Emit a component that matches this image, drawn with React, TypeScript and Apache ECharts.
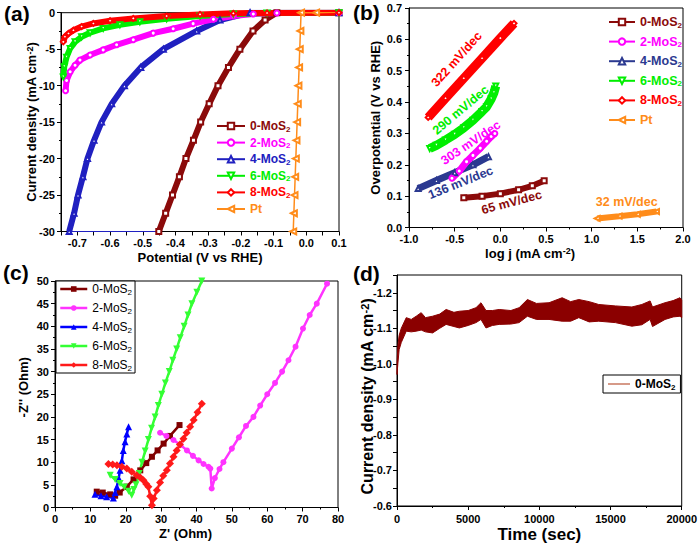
import React, { useEffect, useRef } from 'react';
import * as echarts from 'echarts';

const FONT = '"Liberation Sans", Arial, sans-serif';

// ---------- Panel (a): LSV curves  [potential V vs RHE, current density mA cm-2]
const a0 = [[-0.451, -30], [-0.43, -27.5], [-0.409, -25], [-0.388, -22.5], [-0.368, -20], [-0.345, -17.5], [-0.323, -15], [-0.297, -12.5], [-0.27, -10], [-0.238, -7.5], [-0.203, -5], [-0.163, -2.5], [-0.126, -1], [-0.09, 0], [0.1, 0]];
const a2 = [[-0.736, -10.7], [-0.733, -9.3], [-0.722, -8.1], [-0.707, -7.2], [-0.692, -6.5], [-0.661, -5.8], [-0.621, -5.1], [-0.58, -4.4], [-0.529, -3.7], [-0.468, -2.8], [-0.407, -2.2], [-0.346, -1.5], [-0.284, -0.9], [-0.223, -0.46], [-0.162, -0.18], [-0.09, -0.05], [0.1, 0]];
const a4 = [[-0.725, -30], [-0.71, -27.5], [-0.698, -25], [-0.683, -22.5], [-0.669, -20], [-0.649, -17.5], [-0.626, -15], [-0.595, -12.5], [-0.556, -10], [-0.506, -7.5], [-0.437, -5], [-0.335, -2.5], [-0.264, -1], [-0.172, 0], [0.1, 0]];
const a6 = [[-0.743, -8.8], [-0.74, -7.4], [-0.733, -6.1], [-0.722, -4.9], [-0.707, -4.0], [-0.687, -3.3], [-0.661, -2.75], [-0.621, -2.15], [-0.57, -1.65], [-0.509, -1.24], [-0.427, -0.83], [-0.325, -0.46], [-0.223, -0.18], [-0.12, -0.05], [0.1, 0]];
const a8 = [[-0.743, -4.0], [-0.738, -3.3], [-0.727, -2.85], [-0.712, -2.4], [-0.687, -1.9], [-0.651, -1.47], [-0.6, -1.1], [-0.529, -0.78], [-0.427, -0.46], [-0.325, -0.23], [-0.223, -0.09], [-0.12, -0.03], [0.1, 0]];
const aPt = [[-0.04, -30], [-0.038, -27.5], [-0.036, -25], [-0.034, -22.5], [-0.032, -20], [-0.03, -17.5], [-0.028, -15], [-0.026, -12.5], [-0.024, -10], [-0.022, -7.5], [-0.02, -5], [-0.018, -2.5], [-0.016, 0], [0.03, 0], [0.09, 0.05]];
const aBottom = [[-0.725, -30], [-0.46, -30]];

// ---------- Panel (b): Tafel plots  [log j, overpotential V]
const b0 = [[-0.4, 0.095], [-0.2, 0.1], [0, 0.108], [0.2, 0.12], [0.35, 0.133], [0.48, 0.149]];
const b2 = [[-0.53, 0.157], [-0.45, 0.18], [-0.37, 0.21], [-0.3, 0.23], [-0.22, 0.253], [-0.15, 0.275], [-0.1, 0.29], [-0.06, 0.3]];
const b4 = [[-0.9, 0.124], [-0.7, 0.15], [-0.5, 0.175], [-0.3, 0.2], [-0.13, 0.226]];
const b6 = [[-0.773, 0.252], [-0.7, 0.262], [-0.6, 0.279], [-0.5, 0.297], [-0.4, 0.318], [-0.3, 0.342], [-0.2, 0.37], [-0.15, 0.385], [-0.1, 0.41], [-0.07, 0.43], [-0.05, 0.451]];
const b8 = [[-0.79, 0.351], [-0.6, 0.412], [-0.4, 0.476], [-0.2, 0.54], [0, 0.604], [0.15, 0.651]];
const bPt = [[1.06, 0.029], [1.3, 0.036], [1.5, 0.042], [1.71, 0.051]];
const bSlopes = ['322 mV/dec', '290 mV/dec', '303 mV/dec', '136 mV/dec', '65 mV/dec', '32 mV/dec'];

// ---------- Panel (c): Nyquist plots  [Z' Ohm, -Z'' Ohm]
const c0 = [[11.8, 3.5], [13.5, 3.3], [15.6, 2.9], [17.0, 2.6], [18.3, 3.3], [20.3, 4.6], [22.2, 6.2], [24.1, 8.2], [25.8, 9.8], [27.4, 11.2], [29, 12.6], [30.7, 14.1], [32.5, 15.8], [35.2, 18.2]];
const c2 = [[29.7, 16.5], [31.5, 15.8], [33.5, 14.9], [35.5, 13.8], [37.3, 12.6], [39, 11.4], [40.6, 10.4], [42, 9.6], [43.4, 9.0], [43.9, 8.6], [44.3, 4.2], [45.2, 6.5], [46.5, 8.5], [47.6, 10], [50, 13], [52, 15.5], [54, 18], [56.1, 20], [58, 22.5], [60, 25], [62.2, 27.5], [64.2, 30], [66, 32.5], [68, 35.5], [70.1, 39.5], [72, 42.5], [74, 45], [76.9, 49.4]];
const c4 = [[11.3, 2.9], [13, 2.6], [14.6, 2.4], [16.5, 2.1], [17.0, 3.3], [17.5, 4.6], [18, 6.5], [18.4, 8.2], [18.9, 10.3], [19.3, 12.6], [19.8, 14.5], [20.3, 16.2], [20.8, 17.8]];
const c6 = [[15.6, 7.1], [17, 6.2], [18.4, 5.3], [19.6, 4.5], [20.8, 3.6], [21.7, 2.7], [22.3, 4], [22.9, 5], [23.8, 7.5], [24.6, 10], [25.5, 12.5], [26.4, 15], [27.3, 17.5], [28.3, 20], [29.2, 22.5], [30.2, 25], [31.2, 27.5], [32.3, 30], [33.3, 32.5], [34.4, 35], [35.4, 37.5], [36.5, 40], [37.6, 42.5], [38.7, 45], [40.1, 47.5], [41.5, 50]];
const c8 = [[15.1, 9.6], [16.3, 9.5], [17.5, 9.3], [18.9, 9.0], [20.3, 8.6], [21.7, 7.9], [23.1, 7.1], [24.1, 6.6], [25, 6], [25.8, 5.2], [26.4, 4.6], [26.9, 2.5], [27.4, 0.5], [27.9, 2], [28.8, 3.8], [29.7, 5.5], [30.6, 7], [31.6, 8.2], [32.5, 9.7], [33.5, 11.2], [34.4, 12.6], [35.3, 13.9], [36.3, 15.2], [37.2, 16.5], [38.2, 17.8], [39.2, 19.3], [40.3, 21], [41.5, 22.9]];

// ---------- Panel (d): chronoamperometry  [time s, current density band edges]
const dTime = [0, 60, 150, 300, 650, 1000, 1350, 1700, 2000, 2500, 3000, 3450, 4000, 4380, 5000, 5550, 5900, 6250, 6700, 7180, 8000, 8580, 9160, 9800, 10680, 11600, 12200, 12770, 13500, 14170, 15340, 16500, 17200, 17780, 17950, 18830, 19400, 19880, 20000];
const dTop = [-1.0, -1.05, -1.08, -1.1, -1.13, -1.125, -1.134, -1.144, -1.13, -1.134, -1.14, -1.153, -1.145, -1.148, -1.15, -1.158, -1.172, -1.15, -1.15, -1.153, -1.15, -1.158, -1.181, -1.17, -1.172, -1.186, -1.175, -1.181, -1.175, -1.167, -1.163, -1.16, -1.167, -1.177, -1.16, -1.172, -1.178, -1.186, -1.18];
const dBottom = [-0.97, -1.0, -1.04, -1.06, -1.092, -1.09, -1.092, -1.095, -1.09, -1.087, -1.1, -1.111, -1.105, -1.101, -1.108, -1.116, -1.125, -1.101, -1.108, -1.111, -1.112, -1.116, -1.134, -1.125, -1.125, -1.12, -1.12, -1.13, -1.118, -1.12, -1.116, -1.106, -1.11, -1.125, -1.105, -1.125, -1.132, -1.134, -1.13];

const LABELS: Record<string, string> = {
  a0: '0-MoS{s|2}', a2: '2-MoS{s|2}', a4: '4-MoS{s|2}', a6: '6-MoS{s|2}', a8: '8-MoS{s|2}', aPt: 'Pt',
  b0: '0-MoS{s|2}', b2: '2-MoS{s|2}', b4: '4-MoS{s|2}', b6: '6-MoS{s|2}', b8: '8-MoS{s|2}', bPt: 'Pt',
  c0: '0-MoS{s|2}', c2: '2-MoS{s|2}', c4: '4-MoS{s|2}', c6: '6-MoS{s|2}', c8: '8-MoS{s|2}',
  d0: '0-MoS{s|2}',
};

const C = {
  m0: '#8b0a0a', m2: '#ff00ff', m4: '#2020c0', m6: '#00ee00', m8: '#ff0000', pt: '#ff8c1a',
  b4: '#2b3990', c4: '#0000ff', c2: '#ff33ff', c6: '#33ff33', c8: '#ff1a1a',
};

const fmt1 = (v: number) => (Math.abs(v) < 1e-9 ? '0.0' : v.toFixed(1));

function axis(grid: number, min: number, max: number, interval: number, extra: any = {}) {
  const { axisLabel = {}, minor = true, ...rest } = extra;
  return {
    type: 'value',
    gridIndex: grid,
    min,
    max,
    interval,
    nameMoveOverlap: false,
    axisLine: { show: true, onZero: false, lineStyle: { color: '#000', width: 1 } },
    axisTick: { show: true, inside: false, length: 4, lineStyle: { color: '#000', width: 1 } },
    minorTick: { show: minor, splitNumber: 2, length: 2, lineStyle: { color: '#000', width: 1 } },
    splitLine: { show: false },
    axisLabel: { color: '#000', fontSize: 11, fontWeight: 'bold', fontFamily: FONT, margin: 6, showMinLabel: true, showMaxLabel: true, ...axisLabel },
    nameLocation: 'middle',
    ...rest,
  };
}

function nameStyle(size: number, extra: any = {}) {
  return {
    color: '#000',
    fontSize: size,
    fontWeight: 'bold',
    fontFamily: FONT,
    rich: { sup: { fontSize: Math.round(size * 0.7), fontWeight: 'bold', fontFamily: FONT, verticalAlign: 'top', lineHeight: Math.round(size * 0.7) } },
    ...extra,
  };
}

function legendText(size: number, bold: boolean) {
  return {
    fontSize: size,
    fontWeight: bold ? 'bold' : 'normal',
    fontFamily: FONT,
    lineHeight: 14,
    rich: { s: { fontSize: 8, fontWeight: bold ? 'bold' : 'normal', fontFamily: FONT, verticalAlign: 'bottom', lineHeight: 8 } },
  };
}

function lineSeries(name: string, xi: number, data: number[][], color: string, width: number, symbol: string, size: number, extra: any = {}) {
  return {
    name,
    type: 'line',
    xAxisIndex: xi,
    yAxisIndex: xi,
    data,
    symbol,
    symbolSize: size,
    showSymbol: symbol !== 'none',
    lineStyle: { color, width },
    itemStyle: { color },
    ...extra,
  };
}

export default function App() {
  const ref = useRef<HTMLDivElement>(null);
  useEffect(() => {
    if (!ref.current) return;
    const chart = echarts.init(ref.current, undefined, { renderer: 'svg' });

    const option: any = {
      animation: false,
      backgroundColor: '#fff',
      grid: [
        { left: 61, top: 12.7, width: 278, height: 218.8, show: true, borderColor: '#000', borderWidth: 1, backgroundColor: 'transparent' },
        { left: 409, top: 8, width: 274, height: 219.5, show: true, borderColor: '#000', borderWidth: 1, backgroundColor: 'transparent' },
        { left: 55, top: 281, width: 283, height: 226.5, show: true, borderColor: '#000', borderWidth: 1, backgroundColor: 'transparent' },
        { left: 397, top: 275, width: 286, height: 231, show: true, borderColor: '#000', borderWidth: 1, backgroundColor: 'transparent' },
      ],
      xAxis: [
        axis(0, -0.75, 0.1, 0.05, {
          minor: false,
          axisLabel: { formatter: (v: number) => (Math.round(v * 100) % 10 === 0 ? fmt1(v) : '') },
          name: 'Potential (V vs RHE)', nameGap: 19, nameTextStyle: nameStyle(13),
        }),
        axis(1, -1, 2, 0.5, {
          axisLabel: { formatter: fmt1 },
          name: 'log j (mA cm{sup|-2})', nameGap: 19, nameTextStyle: nameStyle(13, { padding: [0, 32, 0, 0] }),
        }),
        axis(2, 0, 80, 10, {
          axisLabel: { formatter: (v: number) => String(v) },
          name: "Z' (Ohm)", nameGap: 19, nameTextStyle: nameStyle(13, { padding: [0, 22, 0, 0] }),
        }),
        axis(3, 0, 20000, 5000, {
          axisLabel: { margin: 7, formatter: (v: number) => String(v) },
          name: 'Time (sec)', nameGap: 20, nameTextStyle: nameStyle(17),
        }),
      ],
      yAxis: [
        axis(0, -30, 0, 5, {
          axisLabel: { formatter: (v: number) => String(v) },
          name: 'Current density (mA cm{sup|-2})', nameGap: 23, nameTextStyle: nameStyle(13),
        }),
        axis(1, 0, 0.7, 0.1, {
          axisLabel: { formatter: fmt1, margin: 7 },
          name: 'Overpotential (V vs RHE)', nameGap: 27, nameTextStyle: nameStyle(13),
        }),
        axis(2, 0, 50, 5, {
          axisLabel: { formatter: (v: number) => String(v) },
          name: "-Z'' (Ohm)", nameGap: 25, nameTextStyle: nameStyle(13, { padding: [0, 0, 0, 14] }),
        }),
        axis(3, -1.25, -0.6, 0.05, {
          inverse: true,
          minor: false,
          axisLabel: { formatter: (v: number) => (Math.round(v * 100) % 10 === 0 ? fmt1(v) : ''), margin: 5 },
          name: 'Current density (mA cm{sup|-2})', nameGap: 22, nameTextStyle: nameStyle(16, { padding: [0, 12, 0, 0] }),
        }),
      ],
      legend: [
        {
          left: 216, top: 119, orient: 'vertical', itemWidth: 28, itemHeight: 8, itemGap: 2.6, padding: 0,
          selectedMode: false, lineStyle: { width: 2 },
          formatter: (n: string) => LABELS[n],
          textStyle: legendText(12, true),
          data: [
            { name: 'a0', textStyle: { color: C.m0 } },
            { name: 'a2', textStyle: { color: C.m2 } },
            { name: 'a4', textStyle: { color: C.m4 } },
            { name: 'a6', textStyle: { color: C.m6 } },
            { name: 'a8', textStyle: { color: C.m8 } },
            { name: 'aPt', textStyle: { color: C.pt } },
          ],
        },
        {
          left: 608, top: 15, orient: 'vertical', itemWidth: 26, itemHeight: 8, itemGap: 5.6, padding: 0,
          selectedMode: false, lineStyle: { width: 2 },
          formatter: (n: string) => LABELS[n],
          textStyle: legendText(12.5, true),
          data: [
            { name: 'b0', textStyle: { color: C.m0 } },
            { name: 'b2', textStyle: { color: C.m2 } },
            { name: 'b4', textStyle: { color: C.b4 } },
            { name: 'b6', textStyle: { color: C.m6 } },
            { name: 'b8', textStyle: { color: C.m8 } },
            { name: 'bPt', textStyle: { color: C.pt } },
          ],
        },
        {
          left: 56, top: 281, orient: 'vertical', itemWidth: 27, itemHeight: 7, itemGap: 5, padding: [1, 3, 1, 3],
          borderColor: '#000', borderWidth: 1, backgroundColor: '#fff',
          selectedMode: false, lineStyle: { width: 2.5 },
          formatter: (n: string) => LABELS[n],
          textStyle: { ...legendText(12, false), color: '#000' },
          data: ['c0', 'c2', 'c4', 'c6', 'c8'],
        },
        {
          left: 603, top: 375, orient: 'vertical', itemWidth: 22, itemHeight: 1.5, padding: [2, 5, 2, 5],
          borderColor: '#000', borderWidth: 1, backgroundColor: '#fff',
          selectedMode: false,
          formatter: (n: string) => LABELS[n],
          textStyle: { ...legendText(12, true), color: '#000' },
          data: [{ name: 'd0', icon: 'rect', itemStyle: { color: '#c87860' } }],
        },
      ],
      series: [
        // (a)
        lineSeries('aBot', 0, aBottom, C.m4, 1, 'none', 0),
        lineSeries('a0', 0, a0, C.m0, 6, 'emptyRect', 5),
        lineSeries('a4', 0, a4, C.m4, 6, 'emptyTriangle', 5),
        lineSeries('a2', 0, a2, C.m2, 6, 'emptyCircle', 5),
        lineSeries('a6', 0, a6, C.m6, 6, 'emptyTriangle', 5, { symbolRotate: 180 }),
        lineSeries('a8', 0, a8, C.m8, 6, 'emptyDiamond', 5),
        lineSeries('aPt', 0, aPt, C.pt, 1.5, 'emptyTriangle', 6, { symbolRotate: 90 }),
        // (b)
        lineSeries('b0', 1, b0, C.m0, 6, 'emptyRect', 5),
        lineSeries('b4', 1, b4, C.b4, 7, 'emptyTriangle', 5),
        lineSeries('b2', 1, b2, C.m2, 7, 'emptyCircle', 5),
        lineSeries('b6', 1, b6, C.m6, 9, 'emptyTriangle', 5, { symbolRotate: 180 }),
        lineSeries('b8', 1, b8, C.m8, 9, 'emptyDiamond', 5),
        lineSeries('bPt', 1, bPt, C.pt, 6, 'emptyTriangle', 5, { symbolRotate: 90 }),
        // (c)
        lineSeries('c0', 2, c0, '#800000', 2.5, 'rect', 6),
        lineSeries('c2', 2, c2, C.c2, 2.5, 'circle', 6),
        lineSeries('c4', 2, c4, C.c4, 2.5, 'triangle', 7),
        lineSeries('c6', 2, c6, C.c6, 2.5, 'triangle', 7, { symbolRotate: 180 }),
        lineSeries('c8', 2, c8, C.c8, 2.5, 'diamond', 8),
        // (d) band between the read upper and lower edges of the noisy trace
        {
          name: 'dBand',
          type: 'custom',
          coordinateSystem: 'cartesian2d',
          xAxisIndex: 3,
          yAxisIndex: 3,
          data: [[dTime[0], dBottom[0]]],
          silent: true,
          renderItem: (_p: any, api: any) => {
            const up = dTime.map((t, i) => api.coord([t, dTop[i]]));
            const lo = dTime.map((t, i) => api.coord([t, dBottom[i]])).reverse();
            return {
              type: 'polygon',
              shape: { points: up.concat(lo) },
              style: { fill: '#8b0000', stroke: '#8b0000', lineWidth: 1 },
            };
          },
        },
        lineSeries('d0', 3, [], '#c87860', 1.5, 'none', 0),
      ],
      graphic: [
        { type: 'text', x: 4, y: 3, style: { text: '(a)', fill: '#000', font: `bold 21px ${FONT}` } },
        { type: 'text', x: 353, y: 2, style: { text: '(b)', fill: '#000', font: `bold 21px ${FONT}` } },
        { type: 'text', x: 3, y: 262, style: { text: '(c)', fill: '#000', font: `bold 21px ${FONT}` } },
        { type: 'text', x: 353, y: 263, style: { text: '(d)', fill: '#000', font: `bold 21px ${FONT}` } },
        ...[
          [456.7, 59.3, 48, C.m8],
          [460.7, 110, 40, C.m6],
          [470.7, 142.7, 34, C.m2],
          [460.7, 182.7, 22, C.b4],
          [511.7, 202.3, 15, C.m0],
          [626.7, 202.3, 0, C.pt],
        ].map((p, i) => ({
          type: 'text',
          x: p[0] as number,
          y: p[1] as number,
          rotation: ((p[2] as number) * Math.PI) / 180,
          style: { text: bSlopes[i], fill: p[3] as string, font: `bold 12.5px ${FONT}`, align: 'center', verticalAlign: 'middle', textAlign: 'center', textVerticalAlign: 'middle' },
        })),
      ],
    };
    chart.setOption(option);
    return () => chart.dispose();
  }, []);
  return <div ref={ref} style={{ position: 'fixed', left: 0, top: 0, width: 700, height: 547, background: '#fff' }} />;
}
